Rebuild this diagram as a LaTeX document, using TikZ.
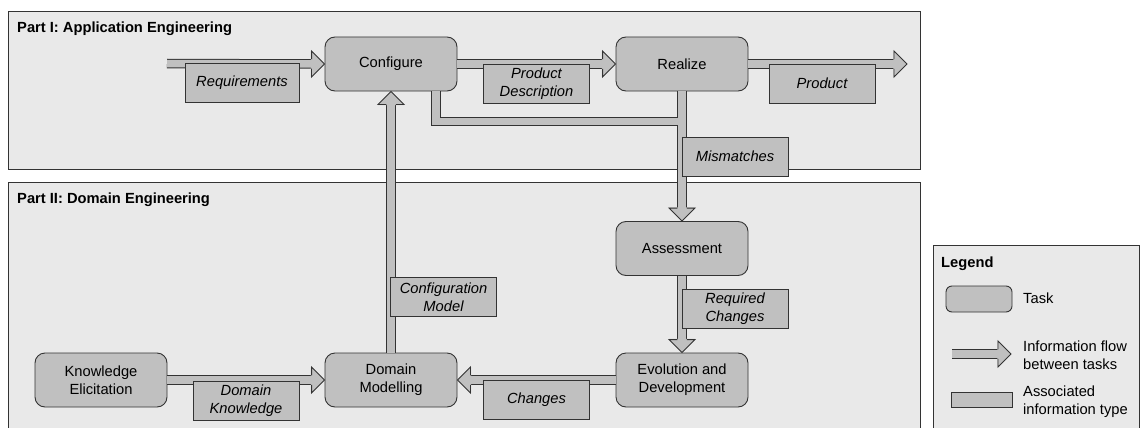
\documentclass[tikz,border=0pt]{standalone}
\usepackage{fontspec}
\setmainfont{Liberation Sans}
\usetikzlibrary{decorations.markings}
\definecolor{partfill}{HTML}{E9E9E9}
\definecolor{taskfill}{HTML}{C0C0C0}
\definecolor{edgecol}{HTML}{333333}
\newcommand{\diafont}{\fontsize{14.7}{18}\selectfont}
\newcommand{\flowhead}{%
  \fill[taskfill] (-0.6,-4.2) -- (-0.6,-13) -- (0,-13) -- (13,0) -- (0,13) -- (-0.6,13) -- (-0.6,4.2) -- cycle;
  \draw[edgecol, line width=0.9pt] (0,-4.75) -- (0,-13) -- (13,0) -- (0,13) -- (0,4.75);}

\begin{document}
\begin{tikzpicture}[x=1pt, y=1pt, font=\diafont,
  part/.style={draw=edgecol, fill=partfill, line width=0.9pt},
  heading/.style={anchor=base west, inner sep=0pt, font=\diafont\bfseries},
  task/.style={draw=edgecol, fill=taskfill, line width=0.9pt, rounded corners=10pt,
    minimum width=132pt, minimum height=54pt, align=center, inner sep=1pt},
  info/.style={draw=edgecol, fill=taskfill, line width=0.9pt, minimum width=106pt,
    minimum height=39pt, align=center, inner sep=1pt, font=\diafont\itshape},
  legtext/.style={anchor=west, align=left, inner sep=0pt},
  flow/.style={draw=edgecol, line width=9.5pt,
    postaction={draw=taskfill, line width=7.5pt},
    postaction={decorate, decoration={markings, mark=at position 1 with {\flowhead}}}}]
  \useasboundingbox (0,0) rectangle (1145,-428);
  \clip (0,0) rectangle (1145,-428);

  \draw[part] (8,-11) rectangle (920,-169);
  \draw[part] (8,-182) rectangle (920,-440);
  \draw[part] (933,-245) rectangle (1139,-440);
  \node[heading] (parti) at (17,-33) {Part I: Application Engineering};
  \node[heading] (partii) at (17,-203) {Part II: Domain Engineering};

  \node[task] (configure) at (391,-64) {Configure};
  \node[task] (realize) at (682,-64) {Realize};
  \node[task] (assess) at (682,-248.5) {Assessment};
  \node[task] (evol) at (682,-380) {Evolution and\\Development};
  \node[task] (domain) at (391,-380) {Domain\\Modelling};
  \node[task] (knowl) at (101,-380) {Knowledge\\Elicitation};

  \coordinate (reqin) at (167,-63.5);
  \coordinate (prodout) at (894,-64);
  \coordinate (misjoin) at (682,-121.5);

  \draw[flow] (reqin) -- ([xshift=-13pt]configure.west);
  \draw[flow] (configure.east) -- ([xshift=-13pt]realize.west);
  \draw[flow] (realize.east) -- (prodout);
  \draw[flow] ([xshift=45pt]configure.south) |- (misjoin)
    (realize.south) -- ([yshift=13pt]assess.north);
  \draw[flow] (assess.south) -- ([yshift=13pt]evol.north);
  \draw[flow] (evol.west) -- ([xshift=13pt]domain.east);
  \draw[flow] (knowl.east) -- ([xshift=-13pt]domain.west);
  \draw[flow] (domain.north) -- ([yshift=-13pt]configure.south);

  \node[info, minimum width=114pt] (req) at (242,-83) {Requirements};
  \node[info] (pdesc) at (536.5,-83.5) {Product\\Description};
  \node[info] (prod) at (822,-83.5) {Product};
  \node[info] (mis) at (735,-156.5) {Mismatches};
  \node[info] (reqch) at (735,-308.5) {Required\\Changes};
  \node[info] (confm) at (443.5,-297) {Configuration\\Model};
  \node[info] (dknow) at (246,-401) {Domain\\Knowledge};
  \node[info] (chg) at (536.5,-399.5) {Changes};

  \node[heading] (legend) at (941,-267) {Legend};
  \node[task, minimum width=66pt, minimum height=26pt, rounded corners=6pt] (lgtask) at (979,-299) {};
  \node[legtext] (lgtasktxt) at (1023,-298) {Task};
  \coordinate (lgflowa) at (952,-354);
  \coordinate (lgflowb) at (998,-354);
  \draw[flow] (lgflowa) -- (lgflowb);
  \node[legtext] (lgflowtxt) at (1023,-355) {Information flow\\between tasks};
  \node[info, minimum width=61pt, minimum height=15pt] (lginfo) at (981.5,-399.5) {};
  \node[legtext] (lginfotxt) at (1023,-402) {Associated\\information type};
\end{tikzpicture}
\end{document}
